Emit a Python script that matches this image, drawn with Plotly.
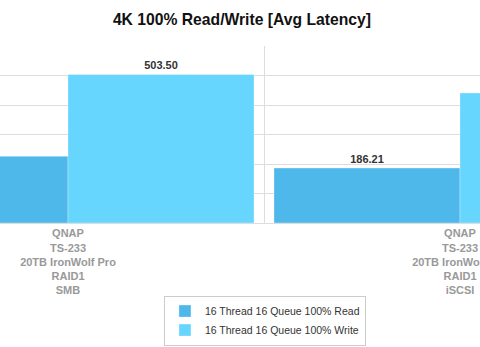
import plotly.graph_objects as go

categories = [
    "QNAP<br>TS-233<br>20TB IronWolf Pro<br>RAID1<br>SMB",
    "QNAP<br>TS-233<br>20TB IronWolf Pro<br>RAID1<br>iSCSI",
]
read_vals = [226.0, 186.21]
write_vals = [503.50, 441.0]
series_names = ["16 Thread 16 Queue 100% Read", "16 Thread 16 Queue 100% Write"]
colors = ["#4db8e9", "#66d6ff"]

FONT = "Liberation Sans, Arial, sans-serif"

fig = go.Figure()
for name, vals, col in zip(series_names, [read_vals, write_vals], colors):
    fig.add_trace(go.Bar(
        x=categories, y=vals, name=name,
        marker=dict(color=col, line=dict(width=0.5, color="rgba(255,255,255,0.6)")),
        texttemplate="<b>%{y:.2f}</b>", textposition="outside",
        textfont=dict(family=FONT, size=11, color="#333333"),
        cliponaxis=False,
    ))

fig.update_layout(
    width=480, height=347,
    margin=dict(l=0, r=0, t=46, b=124, autoexpand=False),
    paper_bgcolor="white", plot_bgcolor="white",
    barmode="group", bargap=0.051, bargroupgap=0,
    title=dict(text="<b>4K 100% Read/Write [Avg Latency]</b>",
               x=0.504, xanchor="center", y=1 - 20 / 347, yanchor="middle",
               yref="container",
               font=dict(family=FONT, size=15.7, color="#111111")),
    legend=dict(orientation="v", x=0.552, xanchor="center", y=-0.41, yanchor="top",
                bordercolor="#cccccc", borderwidth=1, itemwidth=30,
                tracegroupgap=0,
                font=dict(family=FONT, size=10.5, color="#333333")),
    font=dict(family=FONT),
)
fig.update_xaxes(
    type="category", range=[-68 / 392, 1 + 20 / 392], automargin=False,
    tickson="boundaries", showgrid=True, gridcolor="#dddddd", gridwidth=1,
    ticks="", showline=True, linecolor="#dddddd",
    tickfont=dict(family=FONT, size=11, color="#999999", weight="bold"),
)
fig.update_yaxes(
    range=[0, 600], dtick=100, showgrid=True, gridcolor="#dddddd",
    showticklabels=False, zeroline=False, automargin=False,
)
fig.write_html("out.html")
